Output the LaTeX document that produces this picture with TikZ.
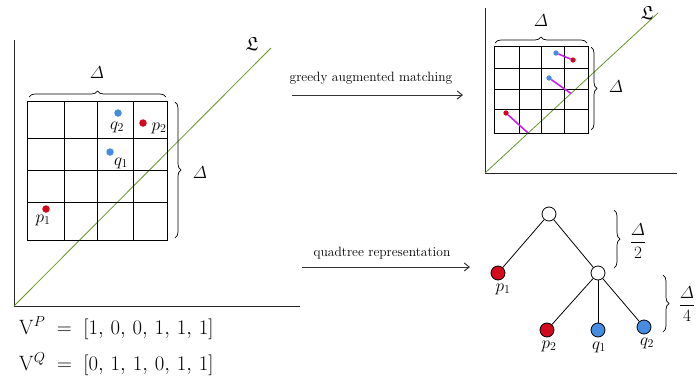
\documentclass[tikz,border=0pt]{standalone}
\usepackage{amsmath,amssymb}
\usetikzlibrary{decorations.pathreplacing,arrows.meta}
\definecolor{lgreen}{RGB}{100,150,40}
\definecolor{pred}{RGB}{210,10,30}
\definecolor{qblue}{RGB}{70,140,225}
\definecolor{magen}{RGB}{200,30,230}
\begin{document}
\begin{tikzpicture}[x=1pt,y=-1pt,
  axis/.style={line width=1pt, black!85},
  gridln/.style={line width=1pt},
  diag/.style={lgreen, line width=0.8pt},
  brc/.style={decorate, decoration={brace, amplitude=6pt}, line width=0.7pt},
  reddot/.style={circle, fill=pred, inner sep=0pt, minimum size=7.5pt},
  bluedot/.style={circle, fill=qblue, inner sep=0pt, minimum size=7.5pt},
  smallreddot/.style={circle, fill=pred, inner sep=0pt, minimum size=5pt},
  smallbluedot/.style={circle, fill=qblue, inner sep=0pt, minimum size=5pt},
  matchln/.style={magen, line width=1.6pt},
  lbl/.style={font=\fontsize{18}{20}\selectfont, inner sep=0pt},
  dlbl/.style={font=\fontsize{19}{21}\selectfont, inner sep=0pt},
  flbl/.style={font=\fontsize{17}{19}\selectfont, inner sep=0pt},
  arrowtxt/.style={font=\fontsize{13.5}{15}\selectfont, inner sep=0pt},
  arr/.style={line width=1pt, black!80, -{Straight Barb[length=5pt,width=8pt]}},
  tnode/.style={circle, draw, line width=0.8pt, fill=white, inner sep=0pt, minimum size=14pt},
  trnode/.style={tnode, fill=pred},
  tbnode/.style={tnode, fill=qblue},
  vec/.style={font=\fontsize{20}{23}\selectfont, anchor=west, inner sep=0pt}
]
\useasboundingbox (0,0) rectangle (697,381);

% ---------- left panel ----------
\coordinate (O1) at (14,306);
\coordinate (Ytop1) at (14,40);
\coordinate (Xend1) at (300,306);
\coordinate (Lend1) at (271,48);
\draw[axis] (Ytop1) -- (O1) -- (Xend1);
\draw[diag] (O1) -- (Lend1);
\node[dlbl] (L1) at (252,44) {$\mathfrak{L}$};

\draw[gridln] (27,101) rectangle (167,240);
\foreach \x in {64,97,133} \draw[gridln] (\x,101) -- (\x,240);
\foreach \y in {138,170,202} \draw[gridln] (27,\y) -- (167,\y);

\draw[brc] (29,97) -- (166,97);
\node[dlbl] (D1) at (97,73) {$\varDelta$};
\draw[brc] (175,102) -- (175,238);
\node[dlbl] (D2) at (200,173) {$\varDelta$};

\node[bluedot] (q2) at (118,113) {};
\node[lbl] (q2l) at (117,127) {$q_2$};
\node[reddot] (p2) at (143,123) {};
\node[lbl] (p2l) at (159,128) {$p_2$};
\node[bluedot] (q1) at (110,152) {};
\node[lbl] (q1l) at (121,163) {$q_1$};
\node[reddot] (p1) at (46,209) {};
\node[lbl] (p1l) at (43,220) {$p_1$};

% ---------- arrows ----------
\coordinate (a1s) at (292,95);
\coordinate (a1e) at (463,95);
\draw[arr] (a1s) -- (a1e);
\node[arrowtxt] (t1) at (371,78) {greedy augmented matching};
\coordinate (a2s) at (302,267);
\coordinate (a2e) at (470,267);
\draw[arr] (a2s) -- (a2e);
\node[arrowtxt] (t2) at (382,253) {quadtree representation};

% ---------- right-top panel ----------
\coordinate (O2) at (485,173);
\coordinate (Ytop2) at (485,8);
\coordinate (Xend2) at (677,173);
\coordinate (Lend2) at (658,13);
\draw[axis] (Ytop2) -- (O2) -- (Xend2);
\draw[diag] (O2) -- (Lend2);
\node[dlbl] (L2) at (647,13) {$\mathfrak{L}$};

\draw[gridln] (494,46) rectangle (588,133);
\foreach \x in {519,541,564} \draw[gridln] (\x,46) -- (\x,133);
\foreach \y in {68,89,109} \draw[gridln] (494,\y) -- (588,\y);

\draw[brc] (495,43) -- (587,43);
\node[dlbl] (D3) at (541,21) {$\varDelta$};
\draw[brc] (591,47) -- (591,130);
\node[dlbl] (D4) at (616,87) {$\varDelta$};

\node[smallbluedot] (mq2) at (556,53) {};
\node[smallreddot] (mp2) at (573,60) {};
\draw[matchln] (mq2) -- (mp2);
\node[smallbluedot] (mq1) at (549,78) {};
\coordinate (dq1) at (571,93.5);
\draw[matchln] (mq1) -- (dq1);
\node[smallreddot] (mp1) at (506,113) {};
\coordinate (dp1) at (528,133);
\draw[matchln] (mp1) -- (dp1);
\node[smallbluedot] at (mq2) {};
\node[smallreddot] at (mp2) {};
\node[smallbluedot] at (mq1) {};
\node[smallreddot] at (mp1) {};

% ---------- quadtree ----------
\node[tnode] (root) at (549,214) {};
\node[trnode] (tp1) at (498,273) {};
\node[tnode] (mid) at (598,273) {};
\node[trnode] (tp2) at (547,330) {};
\node[tbnode] (tq1) at (598,330) {};
\node[tbnode] (tq2) at (644,327) {};
\draw[line width=0.8pt] (root) -- (tp1);
\draw[line width=0.8pt] (root) -- (mid);
\draw[line width=0.8pt] (mid) -- (tp2);
\draw[line width=0.8pt] (mid) -- (tq1);
\draw[line width=0.8pt] (mid) -- (tq2);
\node[lbl] (tp1l) at (503,289) {$p_1$};
\node[lbl] (tp2l) at (549,346) {$p_2$};
\node[lbl] (tq1l) at (599,347) {$q_1$};
\node[lbl] (tq2l) at (647,343) {$q_2$};

\draw[brc] (614,210) -- (614,268);
\node[flbl] (h1) at (638,241) {$\dfrac{\varDelta}{2}$};
\draw[brc] (663,275) -- (663,332);
\node[flbl] (h2) at (687,304) {$\dfrac{\varDelta}{4}$};

% ---------- vectors ----------
\node[vec] (vp) at (19,328) {$\mathrm{V}^{P}\;=\;[1,\,0,\,0,\,1,\,1,\,1]$};
\node[vec] (vq) at (19,364) {$\mathrm{V}^{Q}\;=\;[0,\,1,\,1,\,0,\,1,\,1]$};
\end{tikzpicture}
\end{document}
